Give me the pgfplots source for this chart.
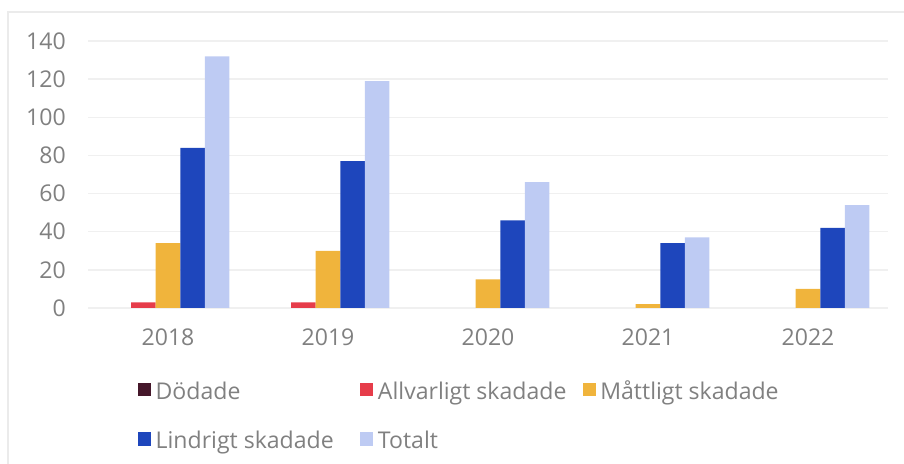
\documentclass[border=0pt]{standalone}
\usepackage{fontspec}
\setmainfont{Open Sans}
\usepackage{pgfplots}
\pgfplotsset{compat=1.18}

\definecolor{dodade}{HTML}{45172A}
\definecolor{allvarligt}{HTML}{E63C4A}
\definecolor{mattligt}{HTML}{F0B43C}
\definecolor{lindrigt}{HTML}{1E46BC}
\definecolor{totalt}{HTML}{BECBF3}
\definecolor{gridgray}{HTML}{F0F0F0}
\definecolor{framegray}{HTML}{EBEBEB}
\definecolor{textgray}{HTML}{808080}

\newcommand{\lt}[1]{\makebox[150pt][l]{#1}}

\begin{document}
\begin{tikzpicture}
\fontsize{17.3}{20}\selectfont
\draw[framegray, line width=1.1pt] (6pt,0pt) -- (6pt,339pt) -- (678pt,339pt);
\begin{axis}[
    at={(66pt,117pt)},
    anchor=south west,
    scale only axis,
    width=600pt,
    height=200.25pt,
    ybar=0pt,
    bar width=18.4pt,
    xmin=-0.5, xmax=4.5,
    ymin=0, ymax=140,
    xtick={0,1,2,3,4},
    xticklabels={2018,2019,2020,2021,2022},
    ytick={0,20,...,140},
    axis line style={draw=none},
    major tick length=0pt,
    ymajorgrids,
    grid style={gridgray, line width=1.1pt},
    tick label style={textgray, font=\fontsize{17.3}{20}\selectfont},
    /pgf/number format/assume math mode=true,
    yticklabel style={anchor=east, inner sep=0pt, xshift=-16.5pt},
    xticklabel style={anchor=north, inner sep=0pt, yshift=-15.75pt},
    unbounded coords=discard,
    legend columns=3,
    legend cell align=left,
    legend style={
        at={(0.0625,-0.281)},
        anchor=north west,
        draw=none, fill=none,
        inner sep=0pt, outer sep=0pt,
        row sep=20.6pt,
        column sep=0pt,
        font=\fontsize{17.3}{20}\selectfont,
        text=textgray,
        nodes={inner ysep=0pt, inner xsep=3.5pt, text height=12.2pt, text depth=4pt},
    },
    legend image code/.code={\fill[#1] (0pt,-2pt) rectangle (9.75pt,8pt);},
    every axis plot/.append style={draw=none},
]

% Dödade: all zero, so nothing is filled; the legend square keeps its colour
\addplot[fill=none, legend image code/.code={\fill[dodade] (0pt,-2pt) rectangle (9.75pt,8pt);}]
    coordinates {(0,0) (1,0) (2,0) (3,0) (4,0)};
\addplot[fill=allvarligt, y filter/.expression={y==0 ? nan : y}]
    coordinates {(0,3) (1,3) (2,0) (3,0) (4,0)};
\addplot[fill=mattligt] coordinates {(0,34) (1,30) (2,15) (3,2) (4,10)};
\addplot[fill=lindrigt] coordinates {(0,84) (1,77) (2,46) (3,34) (4,42)};
\addplot[fill=totalt] coordinates {(0,132) (1,119) (2,66) (3,37) (4,54)};

\legend{\lt{Dödade}, \lt{Allvarligt skadade}, \lt{Måttligt skadade}, \lt{Lindrigt skadade}, \lt{Totalt}}
\end{axis}
\pgfresetboundingbox
\useasboundingbox (0pt,0pt) rectangle (678pt,348pt);
\end{tikzpicture}
\end{document}
